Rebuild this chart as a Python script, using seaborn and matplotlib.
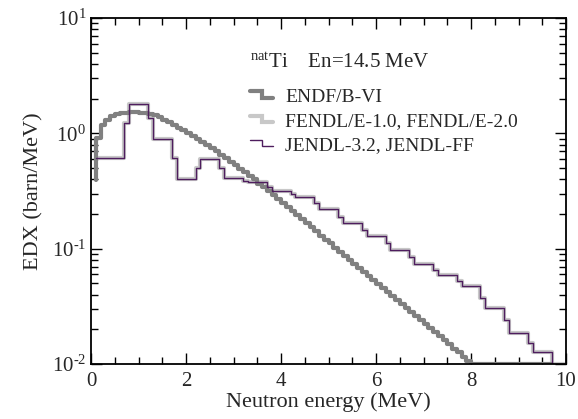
import numpy as np
import pandas as pd
import matplotlib
matplotlib.use("Agg")
import matplotlib.pyplot as plt
import matplotlib.transforms as mtrans
import seaborn as sns
from matplotlib.lines import Line2D
from matplotlib.legend_handler import HandlerBase
from matplotlib.ticker import MultipleLocator, LogLocator, NullFormatter, FixedLocator, FixedFormatter

# ---------------- data ----------------
# ENDF/B-VI : left bin edges (MeV) and EDX values (barn/MeV), 0.1 MeV bins
endf_edges = [0.1, 0.1, 0.2, 0.3, 0.4, 0.5, 0.6, 0.7, 0.8, 0.9, 1.0,
              1.1, 1.2, 1.3, 1.4, 1.5, 1.6, 1.7, 1.8, 1.9, 2.0,
              2.1, 2.2, 2.3, 2.4, 2.5, 2.6, 2.7, 2.8, 2.9, 3.0,
              3.1, 3.2, 3.3, 3.4, 3.5, 3.6, 3.7, 3.8, 3.9, 4.0,
              4.1, 4.2, 4.3, 4.4, 4.5, 4.6, 4.7, 4.8, 4.9, 5.0,
              5.1, 5.2, 5.3, 5.4, 5.5, 5.6, 5.7, 5.8, 5.9, 6.0,
              6.1, 6.2, 6.3, 6.4, 6.5, 6.6, 6.7, 6.8, 6.9, 7.0,
              7.1, 7.2, 7.3, 7.4, 7.5, 7.6, 7.7, 7.8, 7.9, 8.0, 9.7]
endf_values = [0.39, 0.912, 1.175, 1.318, 1.413, 1.462, 1.496, 1.514, 1.531, 1.531, 1.514,
               1.496, 1.479, 1.429, 1.380, 1.318, 1.259, 1.189, 1.122, 1.059, 1.0,
               0.944, 0.891, 0.841, 0.794, 0.750, 0.700, 0.653, 0.610, 0.569, 0.531,
               0.495, 0.462, 0.427, 0.398, 0.367, 0.343, 0.316, 0.292, 0.269, 0.248,
               0.229, 0.211, 0.195, 0.180, 0.166, 0.153, 0.141, 0.130, 0.120, 0.111,
               0.102, 0.0944, 0.0871, 0.0804, 0.0741, 0.0684, 0.0631, 0.0582, 0.0537, 0.0495,
               0.0457, 0.0422, 0.0389, 0.0359, 0.0331, 0.0305, 0.0282, 0.0260, 0.0240, 0.0221,
               0.0204, 0.0188, 0.0174, 0.0160, 0.0148, 0.0136, 0.0126, 0.0116, 0.0107, 0.01, 0.01]

# JENDL-3.2 / JENDL-FF (identical to FENDL/E-1.0, FENDL/E-2.0)
jendl_edges = [0.1, 0.7, 0.8, 1.2, 1.3, 1.7, 1.8, 2.2, 2.3, 2.7, 2.8, 3.2, 3.3, 3.7, 3.8,
               4.2, 4.3, 4.7, 4.8, 5.2, 5.3, 5.7, 5.8, 6.2, 6.3, 6.7, 6.8, 7.2, 7.3,
               7.7, 7.8, 8.2, 8.3, 8.7, 8.8, 9.2, 9.3, 9.7, 10.0]
jendl_values = [0.607, 1.221, 1.784, 1.349, 0.887, 0.607, 0.399, 0.497, 0.595, 0.497, 0.407,
                0.383, 0.376, 0.340, 0.314, 0.296, 0.279, 0.247, 0.219, 0.187, 0.166,
                0.144, 0.128, 0.111, 0.0967, 0.0841, 0.0731, 0.0648, 0.0587, 0.0520, 0.0471,
                0.0371, 0.0303, 0.0239, 0.0184, 0.0151, 0.0126, 0.01, 0.01]

labels = ["ENDF/B-VI", "FENDL/E-1.0, FENDL/E-2.0", "JENDL-3.2, JENDL-FF"]
x_ticks = [0, 2, 4, 6, 8, 10]
y_ticks = [0.01, 0.1, 1, 10]
y_tick_labels = ["10$^{\u2010\\mathregular{2}}$", "10$^{\u2010\\mathregular{1}}$",
                 "10$^{\\mathregular{0}}$", "10$^{\\mathregular{1}}$"]

# ---------------- style ----------------
sns.set_theme(style="ticks")
plt.rcParams['font.family'] = ['Liberation Serif', 'DejaVu Serif']
plt.rcParams['mathtext.fontset'] = 'custom'
plt.rcParams['mathtext.rm'] = 'Liberation Serif'
plt.rcParams['mathtext.it'] = 'Liberation Serif:italic'
plt.rcParams['axes.unicode_minus'] = False

df_endf = pd.DataFrame({"E": endf_edges, "EDX": endf_values})
df_jendl = pd.DataFrame({"E": jendl_edges, "EDX": jendl_values})

fig = plt.figure(figsize=(5.78, 4.19), dpi=100)
ax = fig.add_axes([91/578, 1-364/419, (566-91)/578, (364-18)/419])

sns.lineplot(data=df_jendl, x="E", y="EDX", ax=ax, drawstyle="steps-post",
             color="#c8c8c8", lw=3.0, sort=False, estimator=None)
sns.lineplot(data=df_endf, x="E", y="EDX", ax=ax, drawstyle="steps-post",
             color="#808080", lw=3.0, sort=False, estimator=None)
sns.lineplot(data=df_jendl, x="E", y="EDX", ax=ax, drawstyle="steps-post",
             color="#4e1d5e", lw=1.0, sort=False, estimator=None)

ax.set_yscale("log")
ax.set_xlim(0, 10)
ax.set_ylim(1e-2, 1e1)
ax.set_xticks(x_ticks)
ax.set_xticklabels([str(t) for t in x_ticks])
ax.xaxis.set_minor_locator(MultipleLocator(0.5))
ax.yaxis.set_major_locator(FixedLocator(y_ticks))
ax.yaxis.set_major_formatter(FixedFormatter(y_tick_labels))
ax.yaxis.set_minor_locator(LogLocator(base=10, subs=np.arange(2, 10)))
ax.yaxis.set_minor_formatter(NullFormatter())
ax.tick_params(which='both', direction='in', top=True, right=True, labelsize=15,
               color='black', width=1.0)
ax.tick_params(which='major', length=8)
ax.tick_params(which='minor', length=5)
ax.tick_params(axis='x', pad=6)
for s in ax.spines.values():
    s.set_linewidth(1.3)
    s.set_color('black')

ax.set_xlabel("Neutron energy (MeV)", fontsize=16, labelpad=1)
ax.set_ylabel("EDX (barn/MeV)", fontsize=16, labelpad=6)

ax.text(250, 419-68, r"$^{\mathrm{nat}}$Ti    En=14.5 MeV",
        transform=mtrans.IdentityTransform(),
        fontsize=15, ha='left', va='baseline')


class StepHandler(HandlerBase):
    def create_artists(self, legend, orig_handle, xdescent, ydescent, width,
                       height, fontsize, trans):
        xs = np.array([0, width*0.5, width*0.5, width]) - xdescent
        ys = np.array([height*0.75, height*0.75, height*0.3, height*0.3]) - ydescent
        ln = Line2D(xs, ys, color=orig_handle.get_color(),
                    lw=orig_handle.get_linewidth(), solid_joinstyle='miter')
        ln.set_transform(trans)
        return [ln]


handles = [Line2D([], [], color="#808080", lw=3.0),
           Line2D([], [], color="#c8c8c8", lw=3.0),
           Line2D([], [], color="#4e1d5e", lw=1.0)]
leg = ax.legend(handles, labels, loc='upper left',
                bbox_to_anchor=((250-91)/475, (364-88)/346),
                frameon=False, fontsize=14, handlelength=1.2, handletextpad=0.6,
                labelspacing=0.35, borderpad=0, borderaxespad=0,
                handler_map={Line2D: StepHandler()})

fig.savefig("out.png", dpi=100)
